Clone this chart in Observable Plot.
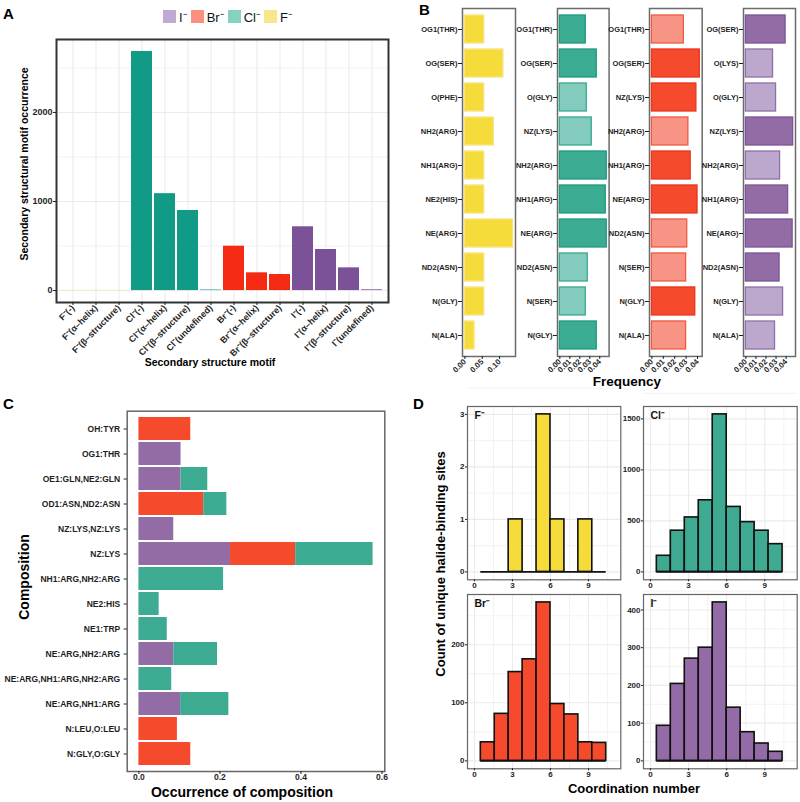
<!DOCTYPE html>
<html><head><meta charset="utf-8">
<script src="https://cdn.jsdelivr.net/npm/d3@7"></script>
<script src="https://cdn.jsdelivr.net/npm/@observablehq/plot@0.6"></script>
<style>
body{margin:0;background:#fff;}
#root{position:relative;width:800px;height:802px;overflow:hidden;background:#fff;}
.lgd-swatches-wrap .lgd-swatch{margin-right:4px !important;}
.lgd-swatch > svg{margin-right:3px !important;}
</style></head><body><div id="root"></div>
<script>
// ---------- DATA ----------
// Panel A
const motifLabels = ["F⁻(-)","F⁻(α–helix)","F⁻(β–structure)","Cl⁻(-)","Cl⁻(α–helix)","Cl⁻(β–structure)","Cl⁻(undefined)","Br⁻(-)","Br⁻(α–helix)","Br⁻(β–structure)","I⁻(-)","I⁻(α–helix)","I⁻(β–structure)","I⁻(undefined)"];
const motifHalide = ["F","F","F","Cl","Cl","Cl","Cl","Br","Br","Br","I","I","I","I"];
const motifCounts = [2,2,2,2685,1088,899,6,498,199,180,716,461,255,8];
const aTicks = [0,1000,2000];
const legendLabels = ["I⁻","Br⁻","Cl⁻","F⁻"];

// Panel B
const bSitesF = ["OG1(THR)","OG(SER)","O(PHE)","NH2(ARG)","NH1(ARG)","NE2(HIS)","NE(ARG)","ND2(ASN)","N(GLY)","N(ALA)"];
const bFreqF  = [0.0556,0.111,0.0556,0.0833,0.0556,0.0556,0.139,0.0556,0.0556,0.0278];
const bStrongF = [1,1,1,1,1,1,1,1,1,1];
const bSitesCl = ["OG1(THR)","OG(SER)","O(GLY)","NZ(LYS)","NH2(ARG)","NH1(ARG)","NE(ARG)","ND2(ASN)","N(SER)","N(GLY)"];
const bFreqCl  = [0.026,0.037,0.027,0.032,0.047,0.046,0.047,0.028,0.026,0.037];
const bStrongCl = [1,1,0,0,1,1,1,0,0,1];
const bSitesBr = ["OG1(THR)","OG(SER)","NZ(LYS)","NH2(ARG)","NH1(ARG)","NE(ARG)","ND2(ASN)","N(SER)","N(GLY)","N(ALA)"];
const bFreqBr  = [0.028,0.042,0.039,0.032,0.034,0.040,0.031,0.030,0.038,0.030];
const bStrongBr = [0,1,1,0,1,1,0,0,1,0];
const bSitesI = ["OG(SER)","O(LYS)","O(GLY)","NZ(LYS)","NH2(ARG)","NH1(ARG)","NE(ARG)","ND2(ASN)","N(GLY)","N(ALA)"];
const bFreqI  = [0.0395,0.027,0.030,0.047,0.034,0.042,0.0465,0.0335,0.037,0.029];
const bStrongI = [1,0,0,1,0,1,1,1,0,0];
const bTicksF = [0,0.05,0.10];
const bTicksOther = [0,0.01,0.02,0.03,0.04];

// Panel C
const compRows = ["OH:TYR","OG1:THR","OE1:GLN,NE2:GLN","OD1:ASN,ND2:ASN","NZ:LYS,NZ:LYS","NZ:LYS","NH1:ARG,NH2:ARG","NE2:HIS","NE1:TRP","NE:ARG,NH2:ARG","NE:ARG,NH1:ARG,NH2:ARG","NE:ARG,NH1:ARG","N:LEU,O:LEU","N:GLY,O:GLY"];
const compI  = [0,0.104,0.104,0,0.086,0.226,0,0,0,0.086,0,0.103,0,0];
const compBr = [0.128,0,0,0.160,0,0.161,0,0,0,0,0,0,0.095,0.128];
const compCl = [0,0,0.066,0.057,0,0.191,0.209,0.050,0.070,0.108,0.081,0.119,0,0];
const cTicks = [0,0.2,0.4,0.6];

// Panel D
const binEdges = [0.5,1.6,2.7,3.8,4.9,6.0,7.1,8.2,9.3,10.4];
const countsF  = [0,0,1,0,3,1,0,1,0];
const countsCl = [158,404,534,702,1544,637,488,404,272];
const countsBr = [32,81,153,175,273,98,80,32,31];
const countsI  = [93,204,271,300,420,141,76,46,24];
const dTicksX = [0,3,6,9];
const dTicksF = [0,1,2,3];
const dTicksCl = [0,500,1000,1500];
const dTicksBr = [0,100,200];
const dTicksI = [0,100,200,300,400];

// ---------- HELPERS ----------
const FONT = '"Liberation Sans", Arial, Helvetica, sans-serif';
const TICK = "#1e1e1e";
const root = document.getElementById("root");
function place(el, left, top){ el.style.position="absolute"; el.style.left=left+"px"; el.style.top=top+"px"; root.appendChild(el); }
function st(){ return {background:"transparent", overflow:"visible", fontFamily:FONT, fontWeight:"bold", color:TICK}; }
function txt(t, css, transform){
  const d=document.createElement("div"); d.textContent=t;
  Object.assign(d.style,{position:"absolute",fontFamily:FONT,fontWeight:"bold",lineHeight:"1",whiteSpace:"nowrap",color:"#000"},css);
  if(transform) d.style.transform=transform;
  root.appendChild(d);
}
function hTitle(t,cx,cy,size){ txt(t,{left:cx+"px",top:cy+"px",fontSize:size+"px"},"translate(-50%,-50%)"); }
function vTitle(t,cx,cy,size){ txt(t,{left:cx+"px",top:cy+"px",fontSize:size+"px"},"translate(-50%,-50%) rotate(-90deg)"); }
function mids(t){ const m=[]; const s=t[1]-t[0]; for(let i=0;i<t.length;i++) m.push(t[i]+s/2); return m; }
const fmtInt = d3.format("d");

// ---------- PANEL A ----------
const aData = motifLabels.map((m,i)=>({motif:m, halide:motifHalide[i], count:motifCounts[i]}));
const aMax = d3.max(motifCounts);
const A = Plot.plot({
  width:400, height:380, marginLeft:56, marginRight:12, marginTop:39, marginBottom:78,
  style: st(),
  x:{type:"band", domain:motifLabels, paddingInner:0.1, paddingOuter:0.15},
  y:{domain:[-0.05*aMax, 1.05*aMax]},
  color:{domain:["F","Cl","Br","I"], range:["#f6dc3b","#119a85","#f42a12","#7b5297"]},
  marks:[
    Plot.gridY(mids(aTicks),{stroke:"#ececec",strokeOpacity:1,strokeWidth:0.7}),
    Plot.gridY(aTicks,{stroke:"#ebebeb",strokeOpacity:1,strokeWidth:1.1}),
    Plot.gridX(motifLabels,{stroke:"#ebebeb",strokeOpacity:1,strokeWidth:1.1}),
    Plot.barY(aData,{x:"motif",y:"count",fill:"halide"}),
    Plot.frame({stroke:"#333",strokeWidth:2}),
    Plot.axisY({ticks:aTicks, tickFormat:fmtInt, tickSize:3, tickPadding:1, fontSize:9, label:null}),
    Plot.axisX({tickRotate:-45, tickSize:3, tickPadding:1, fontSize:9, label:null})
  ]
});
place(A,0,0);

const lg = Plot.legend({color:{type:"categorical", domain:legendLabels, range:["#bfaad4","#fb8f80","#87d1c3","#f9e68c"]},
  swatchSize:13, className:"lgd", style:{fontFamily:FONT, fontSize:"13px", color:"#111", margin:"0"}});
place(lg,163,0);

// ---------- PANEL B ----------
function panelB(sites, freq, strong, fills, strokes, ticks, fmt, frameLeft, frameW){
  const M = d3.max(freq);
  const data = sites.map((s,i)=>({site:s, freq:freq[i], strong:strong[i]}));
  const mL=62, mR=4, mT=8, mB=30;
  const p = Plot.plot({
    width:mL+frameW+mR, height:356+mB, marginLeft:mL, marginRight:mR, marginTop:mT, marginBottom:mB,
    style: st(),
    x:{domain:[-0.05*M, 1.05*M]},
    y:{type:"band", domain:sites, paddingInner:0.18, paddingOuter:0.19},
    marks:[
      Plot.barX(data,{y:"site", x:"freq", fill:d=>fills[d.strong], stroke:d=>strokes[d.strong], strokeWidth:1.3}),
      Plot.frame({stroke:"#6b6b6b",strokeWidth:1.5}),
      Plot.axisY({tickSize:4, tickPadding:1, fontSize:7.5, label:null}),
      Plot.axisX({ticks, tickFormat:fmt, tickRotate:-45, tickSize:3, tickPadding:1, fontSize:7.8, label:null})
    ]
  });
  place(p, frameLeft-mL, 0);
}
panelB(bSitesF, bFreqF, bStrongF, ["#f6dc3b","#f6dc3b"], ["#f8e37e","#f8e37e"], bTicksF, d3.format(".2f"), 462, 53);
panelB(bSitesCl, bFreqCl, bStrongCl, ["#82cbbd","#3bab91"], ["#3aaa90","#1f9a80"], bTicksOther, d3.format(".2f"), 556.7, 51.6);
panelB(bSitesBr, bFreqBr, bStrongBr, ["#f79485","#f64a2c"], ["#ef5a40","#e8351c"], bTicksOther, d3.format(".2f"), 649, 52.7);
panelB(bSitesI, bFreqI, bStrongI, ["#bba8cc","#936ba5"], ["#8e70a8","#7b5595"], bTicksOther, d3.format(".2f"), 743, 52);

// ---------- PANEL C ----------
const cData = [];
compRows.forEach((r,i)=>{
  if(compI[i]>0) cData.push({row:r, halide:"I", v:compI[i]});
  if(compBr[i]>0) cData.push({row:r, halide:"Br", v:compBr[i]});
  if(compCl[i]>0) cData.push({row:r, halide:"Cl", v:compCl[i]});
});
const cMax = d3.max(compRows.map((r,i)=>compI[i]+compBr[i]+compCl[i]));
const C = Plot.plot({
  width:395, height:407, marginLeft:126.7, marginRight:10.7, marginTop:15.7, marginBottom:31,
  style: st(),
  x:{domain:[-0.05*cMax, 1.05*cMax]},
  y:{type:"band", domain:compRows, paddingInner:0.1, paddingOuter:0.15},
  color:{domain:["I","Br","Cl"], range:["#936ca6","#f64a2c","#3dab92"]},
  marks:[
    Plot.barX(cData, Plot.stackX({y:"row", x:"v", fill:"halide", z:"halide", order:["I","Br","Cl"]})),
    Plot.frame({stroke:"#666",strokeWidth:1.5}),
    Plot.axisY({tickSize:3, tickPadding:4, fontSize:8.5, label:null}),
    Plot.axisX({ticks:cTicks, tickFormat:d3.format(".1f"), tickSize:3, tickPadding:-1, fontSize:8.5, label:null})
  ]
});
place(C,0,395);

// ---------- PANEL D ----------
function panelD(counts, yTicks, color, lab, frameLeft, frameTop, frameW, frameH){
  const M = d3.max(counts);
  const data = counts.map((c,i)=>({x1:binEdges[i], x2:binEdges[i+1], c})).filter(d=>d.c>0);
  const mL=34, mR=4, mT=4, mB=18;
  const p = Plot.plot({
    width:mL+frameW+mR, height:mT+frameH+mB, marginLeft:mL, marginRight:mR, marginTop:mT, marginBottom:mB,
    style: st(),
    x:{domain:[-0.55, 11.55]},
    y:{domain:[-0.05*M, 1.05*M]},
    marks:[
      Plot.gridX(mids(dTicksX),{stroke:"#ededed",strokeOpacity:1,strokeWidth:0.7}),
      Plot.gridY(mids(yTicks),{stroke:"#ededed",strokeOpacity:1,strokeWidth:0.7}),
      Plot.gridX(dTicksX,{stroke:"#ebebeb",strokeOpacity:1,strokeWidth:1.1}),
      Plot.gridY(yTicks,{stroke:"#ebebeb",strokeOpacity:1,strokeWidth:1.1}),
      Plot.rect(data,{x1:"x1", x2:"x2", y1:d=>0, y2:"c", fill:color, stroke:"#111", strokeWidth:1.6}),
      Plot.ruleY([0],{x1:binEdges[0], x2:binEdges[binEdges.length-1], stroke:"#111", strokeWidth:1.6}),
      Plot.frame({stroke:"#666",strokeWidth:1.2}),
      Plot.text([lab],{frameAnchor:"top-left", dx:7, dy:5, fontSize:10.5, fill:"#111"}),
      Plot.axisX({ticks:dTicksX, tickFormat:fmtInt, tickSize:2, tickPadding:1, fontSize:8, label:null}),
      Plot.axisY({ticks:yTicks, tickFormat:fmtInt, tickSize:2, tickPadding:1, fontSize:8, label:null})
    ]
  });
  place(p, frameLeft-mL, frameTop-mT);
}
panelD(countsF, dTicksF, "#f6dc3a", "F⁻", 466.7, 406, 153.3, 173.3);
panelD(countsCl, dTicksCl, "#3daa91", "Cl⁻", 643.3, 406, 153.7, 173.3);
panelD(countsBr, dTicksBr, "#f64a2c", "Br⁻", 466.7, 594, 153.3, 174.3);
panelD(countsI, dTicksI, "#936ba6", "I⁻", 643.3, 594, 153.7, 174.3);

// ---------- TEXT ----------
txt("A",{left:"3px",top:"6px",fontSize:"15px"});
txt("B",{left:"419px",top:"2px",fontSize:"15px"});
txt("C",{left:"3px",top:"396px",fontSize:"15px"});
txt("D",{left:"413px",top:"396px",fontSize:"15px"});
vTitle("Secondary structural motif occurrence",24,164,10.5);
hTitle("Secondary structure motif",210,362,10.5);
hTitle("Frequency",627,382,13.5);
vTitle("Composition",24,577,14);
hTitle("Occurrence of composition",242,792,14);
vTitle("Count of unique halide-binding sites",440,564,13);
hTitle("Coordination number",634,788,13);
</script></body></html>
